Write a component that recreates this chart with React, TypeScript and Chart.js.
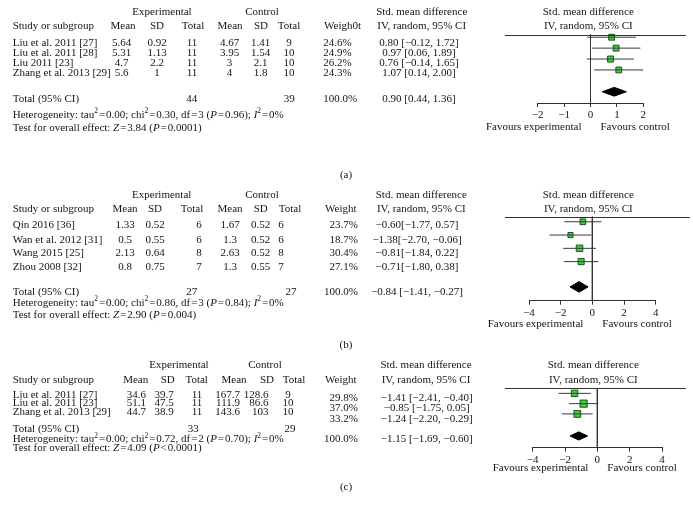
import React, { useEffect, useRef } from 'react';
import { Chart, registerables } from 'chart.js';
Chart.register(...registerables);

const W = 693;
const H = 512;
const FONT = '"Liberation Serif", "Times New Roman", serif';
const INK = '#161414';
const EQ = '\u200a=\u200a';
const LT = '\u200a<\u200a';

// ---------- Panel (a) ----------
const studiesA = ['Liu et al. 2011 [27]', 'Liu et al. 2011 [28]', 'Liu 2011 [23]', 'Zhang et al. 2013 [29]'];
const expMeanA = ['5.64', '5.31', '4.7', '5.6'];
const expSdA = ['0.92', '1.13', '2.2', '1'];
const expNA = [11, 11, 11, 11];
const ctlMeanA = ['4.67', '3.95', '3', '4'];
const ctlSdA = ['1.41', '1.54', '2.1', '1.8'];
const ctlNA = [9, 10, 10, 10];
const weightA = [24.6, 24.9, 26.2, 24.3];
const smdA = [0.8, 0.97, 0.76, 1.07];
const loA = [-0.12, 0.06, -0.14, 0.14];
const hiA = [1.72, 1.89, 1.65, 2.0];
const pooledA = [0.9, 0.44, 1.36];
const totalNA = [44, 39];
const xRangeA = [-2, 2];
const tickStepA = 1;

// ---------- Panel (b) ----------
const studiesB = ['Qin 2016 [36]', 'Wan et al. 2012 [31]', 'Wang 2015 [25]', 'Zhou 2008 [32]'];
const expMeanB = ['1.33', '0.5', '2.13', '0.8'];
const expSdB = ['0.52', '0.55', '0.64', '0.75'];
const expNB = [6, 6, 8, 7];
const ctlMeanB = ['1.67', '1.3', '2.63', '1.3'];
const ctlSdB = ['0.52', '0.52', '0.52', '0.55'];
const ctlNB = [6, 6, 8, 7];
const weightB = [23.7, 18.7, 30.4, 27.1];
const smdB = [-0.6, -1.38, -0.81, -0.71];
const loB = [-1.77, -2.7, -1.84, -1.8];
const hiB = [0.57, -0.06, 0.22, 0.38];
const pooledB = [-0.84, -1.41, -0.27];
const totalNB = [27, 27];
const xRangeB = [-4, 4];
const tickStepB = 2;

// ---------- Panel (c) ----------
const studiesC = ['Liu et al. 2011 [27]', 'Liu et al. 2011 [23]', 'Zhang et al. 2013 [29]'];
const expMeanC = ['34.6', '51.1', '44.7'];
const expSdC = ['39.7', '47.5', '38.9'];
const expNC = [11, 11, 11];
const ctlMeanC = ['167.7', '111.9', '143.6'];
const ctlSdC = ['128.6', '86.6', '103'];
const ctlNC = [9, 10, 10];
const weightC = [29.8, 37.0, 33.2];
const smdC = [-1.41, -0.85, -1.24];
const loC = [-2.41, -1.75, -2.2];
const hiC = [-0.4, 0.05, -0.29];
const pooledC = [-1.15, -1.69, -0.6];
const totalNC = [33, 29];
const xRangeC = [-4, 4];
const tickStepC = 2;

type Seg = string | { t: string; i?: boolean; s?: boolean };

const hetA: Seg[] = ['Heterogeneity: tau', { t: '2', s: true }, EQ + '0.00; chi', { t: '2', s: true }, EQ + '0.30, df' + EQ + '3 (', { t: 'P', i: true }, EQ + '0.96); ', { t: 'I', i: true }, { t: '2', s: true }, EQ + '0%'];
const testA: Seg[] = ['Test for overall effect: ', { t: 'Z', i: true }, EQ + '3.84 (', { t: 'P', i: true }, EQ + '0.0001)'];
const hetB: Seg[] = ['Heterogeneity: tau', { t: '2', s: true }, EQ + '0.00; chi', { t: '2', s: true }, EQ + '0.86, df' + EQ + '3 (', { t: 'P', i: true }, EQ + '0.84); ', { t: 'I', i: true }, { t: '2', s: true }, EQ + '0%'];
const testB: Seg[] = ['Test for overall effect: ', { t: 'Z', i: true }, EQ + '2.90 (', { t: 'P', i: true }, EQ + '0.004)'];
const hetC: Seg[] = ['Heterogeneity: tau', { t: '2', s: true }, EQ + '0.00; chi', { t: '2', s: true }, EQ + '0.72, df' + EQ + '2 (', { t: 'P', i: true }, EQ + '0.70); ', { t: 'I', i: true }, { t: '2', s: true }, EQ + '0%'];
const testC: Seg[] = ['Test for overall effect: ', { t: 'Z', i: true }, EQ + '4.09 (', { t: 'P', i: true }, LT + '0.0001)'];

const fmt = (n: number) => (n < 0 ? '\u2212' : '') + Math.abs(n).toFixed(2);

const panels = [
  {
    data: { studies: studiesA, expMean: expMeanA, expSd: expSdA, expN: expNA, ctlMean: ctlMeanA, ctlSd: ctlSdA, ctlN: ctlNA, weight: weightA, smd: smdA, lo: loA, hi: hiA, pooled: pooledA, totalN: totalNA, xRange: xRangeA, step: tickStepA, het: hetA, test: testA, weightHdr: 'Weigh0t', ciSep: ' ' },
    L: {
      plotLeft: 537.7, plotRight: 643.3, lineTop: 34.5, axisY: 103, yMin: 0.75, yMax: 7.03, diamondRow: 6,
      rule: [505, 686], h1: 11.7, h2: 26,
      rows: [42.7, 53.3, 63.3, 72.7], totalY: 99.3, rowsR: [42.7, 53.3, 63.3, 72.7], totalYR: 99.3,
      hetY: 115, testY: 127.7, favY: 126.7,
      hdr: { exp: 162, ctl: 262, mean: 123, sd: 157, n: 193, cmean: 230, csd: 261, cn: 289, weight: 324, smd: 421.7, plot: 588.3 },
      col: { study: 12.7, mean: [121.5, 'center'], sd: [157, 'center'], n: 192, cmean: [229.5, 'center'], csd: [260.5, 'center'], cn: 289, weight: [323.3, 'left'], ci: 419, totN: 191.7, totCN: 289.3 },
      tag: '(a)', tagX: 346, tagY: 175,
    },
  },
  {
    data: { studies: studiesB, expMean: expMeanB, expSd: expSdB, expN: expNB, ctlMean: ctlMeanB, ctlSd: ctlSdB, ctlN: ctlNB, weight: weightB, smd: smdB, lo: loB, hi: hiB, pooled: pooledB, totalN: totalNB, xRange: xRangeB, step: tickStepB, het: hetB, test: testB, weightHdr: 'Weight', ciSep: '' },
    L: {
      plotLeft: 529, plotRight: 655.7, lineTop: 216.7, axisY: 300.7, yMin: 0.62, yMax: 6.94, diamondRow: 5.9,
      rule: [505, 690], h1: 195, h2: 209.3,
      rows: [225.5, 240, 253.3, 266.7], totalY: 292, rowsR: [225.5, 240, 253.3, 266.7], totalYR: 292,
      hetY: 302.7, testY: 315, favY: 324,
      hdr: { exp: 161.7, ctl: 262, mean: 125, sd: 155, n: 192, cmean: 230, csd: 260.7, cn: 290, weight: 325, smd: 421.3, plot: 588.3 },
      col: { study: 12.7, mean: [125, 'center'], sd: [155, 'center'], n: 199, cmean: [230, 'center'], csd: [260.7, 'center'], cn: 281, weight: [358, 'right'], ci: 417, totN: 191.7, totCN: 291 },
      tag: '(b)', tagX: 346, tagY: 345,
    },
  },
  {
    data: { studies: studiesC, expMean: expMeanC, expSd: expSdC, expN: expNC, ctlMean: ctlMeanC, ctlSd: ctlSdC, ctlN: ctlNC, weight: weightC, smd: smdC, lo: loC, hi: hiC, pooled: pooledC, totalN: totalNC, xRange: xRangeC, step: tickStepC, het: hetC, test: testC, weightHdr: 'Weight', ciSep: ' ' },
    L: {
      plotLeft: 532.7, plotRight: 662, lineTop: 388.3, axisY: 447.7, yMin: 0.51, yMax: 6.28, diamondRow: 5.14,
      rule: [505, 686], h1: 365, h2: 380,
      rows: [395, 403.5, 412], totalY: 429.3, rowsR: [398.3, 408.3, 418.7], totalYR: 439.5,
      hetY: 439.3, testY: 447.7, favY: 468.3,
      hdr: { exp: 179, ctl: 265, mean: 135.7, sd: 167.7, n: 196.7, cmean: 234, csd: 267, cn: 294, weight: 325, smd: 426, plot: 593.3 },
      col: { study: 12.7, mean: [136.3, 'center'], sd: [164, 'center'], n: 197, cmean: [240, 'right'], csd: [268.5, 'right'], cn: 288, weight: [358, 'right'], ci: 426.7, totN: 193.3, totCN: 290 },
      tag: '(c)', tagX: 346, tagY: 486.7,
    },
  },
];

const FS = 11;
const AXIS_H = 4 + 2 * 2 + FS * 1.2;

function drawRich(ctx: CanvasRenderingContext2D, segs: Seg[], x: number, y: number) {
  let cx = x;
  ctx.textAlign = 'left';
  for (const sg of segs) {
    const o = typeof sg === 'string' ? { t: sg } : sg;
    const fs = o.s ? FS * 0.68 : FS;
    ctx.font = `${o.i ? 'italic ' : ''}${fs}px ${FONT}`;
    ctx.fillText(o.t, cx, o.s ? y - FS * 0.32 : y);
    cx += ctx.measureText(o.t).width;
  }
}

function makeTablePlugin(P: any) {
  const { data: D, L } = P;
  return {
    id: 'forestTable',
    afterDraw(chart: any) {
      const ctx: CanvasRenderingContext2D = chart.ctx;
      ctx.save();
      ctx.fillStyle = INK;
      ctx.textBaseline = 'middle';
      ctx.font = `${FS}px ${FONT}`;
      const t = (s: string, x: number, y: number, a: CanvasTextAlign = 'center') => {
        ctx.textAlign = a;
        ctx.fillText(s, x, y);
      };
      const tc = (s: string, c: any, y: number) => t(s, c[0], y, c[1]);
      // headers
      t('Experimental', L.hdr.exp, L.h1);
      t('Control', L.hdr.ctl, L.h1);
      t('Std. mean difference', L.hdr.smd, L.h1);
      t('Std. mean difference', L.hdr.plot, L.h1);
      t('Study or subgroup', L.col.study, L.h2, 'left');
      t('Mean', L.hdr.mean, L.h2);
      t('SD', L.hdr.sd, L.h2);
      t('Total', L.hdr.n, L.h2);
      t('Mean', L.hdr.cmean, L.h2);
      t('SD', L.hdr.csd, L.h2);
      t('Total', L.hdr.cn, L.h2);
      t(D.weightHdr, L.hdr.weight, L.h2, 'left');
      t('IV, random, 95% CI', L.hdr.smd, L.h2);
      t('IV, random, 95% CI', L.hdr.plot, L.h2);
      // rows
      D.studies.forEach((s: string, i: number) => {
        const y = L.rows[i];
        const yr = L.rowsR[i];
        t(s, L.col.study, y, 'left');
        tc(D.expMean[i], L.col.mean, y);
        tc(D.expSd[i], L.col.sd, y);
        t(String(D.expN[i]), L.col.n, y);
        tc(D.ctlMean[i], L.col.cmean, y);
        tc(D.ctlSd[i], L.col.csd, y);
        t(String(D.ctlN[i]), L.col.cn, y);
        tc(D.weight[i].toFixed(1) + '%', L.col.weight, yr);
        t(`${fmt(D.smd[i])}${D.ciSep}[${fmt(D.lo[i])}, ${fmt(D.hi[i])}]`, L.col.ci, yr);
      });
      // total
      const ty = L.totalY;
      t('Total (95% CI)', L.col.study, ty, 'left');
      t(String(D.totalN[0]), L.col.totN, ty);
      t(String(D.totalN[1]), L.col.totCN, ty);
      tc('100.0%', L.col.weight, L.totalYR);
      t(`${fmt(D.pooled[0])} [${fmt(D.pooled[1])}, ${fmt(D.pooled[2])}]`, L.col.ci, L.totalYR);
      drawRich(ctx, D.het, L.col.study, L.hetY);
      drawRich(ctx, D.test, L.col.study, L.testY);
      ctx.font = `${FS}px ${FONT}`;
      // favours labels relative to the zero line
      const x0 = chart.scales.x.getPixelForValue(0);
      t('Favours experimental', x0 - 9, L.favY, 'right');
      t('Favours control', x0 + 10, L.favY, 'left');
      t(L.tag, L.tagX, L.tagY);
      // header rule
      ctx.strokeStyle = '#333';
      ctx.lineWidth = 1;
      ctx.beginPath();
      ctx.moveTo(L.rule[0], Math.round(L.lineTop) + 0.5);
      ctx.lineTo(L.rule[1], Math.round(L.lineTop) + 0.5);
      ctx.stroke();
      ctx.restore();
    },
  };
}

function buildConfig(P: any) {
  const { data: D, L } = P;
  const rowsY = D.studies.map((_: string, i: number) => i + 1);
  const datasets: any[] = [];
  // zero line
  datasets.push({
    data: [{ x: 0, y: L.yMin }, { x: 0, y: L.yMax }],
    showLine: true, borderColor: '#333', borderWidth: 1, pointRadius: 0, clip: false,
  });
  // CI lines
  D.smd.forEach((_: number, i: number) => {
    datasets.push({
      data: [{ x: D.lo[i], y: rowsY[i] }, { x: D.hi[i], y: rowsY[i] }],
      showLine: true, borderColor: '#3a3a3a', borderWidth: 1, pointRadius: 0, clip: false,
    });
  });
  // squares
  datasets.push({
    data: D.smd.map((v: number, i: number) => ({ x: v, y: rowsY[i] })),
    showLine: false, pointStyle: 'rect',
    pointRadius: D.weight.map((w: number) => 0.83 * Math.sqrt(w)),
    backgroundColor: '#3fcf3f', borderColor: '#1f4f1f', borderWidth: 1, clip: false,
  });
  // diamond
  const [est, lo, hi] = D.pooled;
  const r = L.diamondRow;
  datasets.push({
    data: [
      { x: lo, y: r }, { x: est, y: r - 0.4 }, { x: hi, y: r }, { x: est, y: r + 0.4 }, { x: lo, y: r },
    ],
    showLine: true, fill: 'shape', backgroundColor: '#000', borderColor: '#000', borderWidth: 1,
    pointRadius: 0, tension: 0, clip: false,
  });
  return {
    type: 'scatter',
    data: { datasets },
    options: {
      responsive: false,
      animation: false,
      devicePixelRatio: 1,
      events: [],
      layout: { padding: { left: L.plotLeft, right: W - L.plotRight, top: L.lineTop, bottom: H - L.axisY - AXIS_H } },
      scales: {
        x: {
          type: 'linear', position: 'bottom', min: D.xRange[0], max: D.xRange[1],
          ticks: {
            stepSize: D.step, padding: 2, color: INK, font: { family: FONT, size: FS }, maxRotation: 0, autoSkip: false,
            callback: (v: number) => (v < 0 ? '\u2212' : '') + Math.abs(v),
          },
          grid: { display: true, drawOnChartArea: false, drawTicks: true, tickLength: 4, color: '#333', lineWidth: 1 },
          border: { display: true, color: '#333', width: 1 },
        },
        y: { type: 'linear', display: false, min: L.yMin, max: L.yMax, reverse: true },
      },
      plugins: { legend: { display: false }, tooltip: { enabled: false }, title: { display: false } },
    },
    plugins: [makeTablePlugin(P)],
  };
}

function Panel({ P }: { P: any }) {
  const ref = useRef<HTMLCanvasElement | null>(null);
  useEffect(() => {
    if (!ref.current) return;
    const chart = new Chart(ref.current, buildConfig(P) as any);
    return () => chart.destroy();
  }, [P]);
  return <canvas ref={ref} width={W} height={H} style={{ position: 'absolute', left: 0, top: 0, width: W, height: H }} />;
}

export default function App() {
  return (
    <div style={{ position: 'absolute', left: 0, top: 0, width: W, height: H, background: '#fff', overflow: 'hidden' }}>
      {panels.map((P, i) => (
        <Panel key={i} P={P} />
      ))}
    </div>
  );
}
